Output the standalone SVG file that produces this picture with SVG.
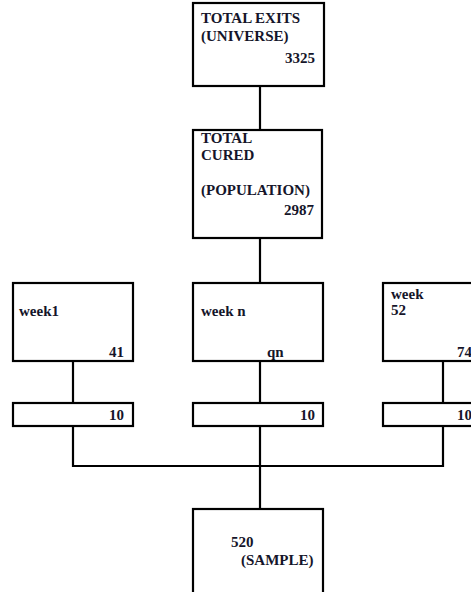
<svg xmlns="http://www.w3.org/2000/svg" width="471" height="592" viewBox="0 0 471 592">
<style>
.box{fill:#fff;stroke:#000;stroke-width:2.2}
.ln{fill:none;stroke:#000;stroke-width:2.2}
text{font-family:"Liberation Serif","Times New Roman",serif;font-weight:bold;font-size:15px;fill:#15152a}
.r{text-anchor:end}
</style>
<rect width="471" height="592" fill="#fff"/>
<g id="connectors">
<line class="ln" x1="260" y1="86" x2="260" y2="130"/>
<line class="ln" x1="260" y1="238" x2="260" y2="283"/>
<line class="ln" x1="73" y1="361" x2="73" y2="403"/>
<line class="ln" x1="260" y1="361" x2="260" y2="403"/>
<line class="ln" x1="443" y1="361" x2="443" y2="403"/>
<polyline class="ln" points="73,426 73,466 443,466 443,426"/>
<line class="ln" x1="260" y1="426" x2="260" y2="509"/>
</g>
<g id="universe">
<rect class="box" x="193" y="3" width="131" height="83"/>
<text x="201" y="23">TOTAL EXITS</text>
<text x="201" y="41">(UNIVERSE)</text>
<text class="r" x="315" y="63">3325</text>
</g>
<g id="population">
<rect class="box" x="193" y="130" width="129" height="108"/>
<text x="201" y="143">TOTAL</text>
<text x="201" y="160">CURED</text>
<text x="201" y="195">(POPULATION)</text>
<text class="r" x="314" y="215">2987</text>
</g>
<g id="week1">
<rect class="box" x="13" y="283" width="120" height="78"/>
<text x="19" y="316">week1</text>
<text class="r" x="124" y="357">41</text>
</g>
<g id="weekn">
<rect class="box" x="193" y="283" width="130" height="78"/>
<text x="201" y="316">week n</text>
<text x="267" y="357">qn</text>
</g>
<g id="week52">
<rect class="box" x="383" y="283" width="130" height="78"/>
<text x="391" y="299">week</text>
<text x="391" y="315">52</text>
<text x="457" y="357">74</text>
</g>
<g id="s1">
<rect class="box" x="13" y="403" width="120" height="23"/>
<text class="r" x="124" y="420">10</text>
</g>
<g id="sn">
<rect class="box" x="193" y="403" width="130" height="23"/>
<text class="r" x="315" y="420">10</text>
</g>
<g id="s52">
<rect class="box" x="383" y="403" width="130" height="23"/>
<text x="457" y="420">10</text>
</g>
<g id="sample">
<rect class="box" x="193" y="509" width="130" height="100"/>
<text x="231" y="547">520</text>
<text x="241" y="565">(SAMPLE)</text>
</g>
</svg>
